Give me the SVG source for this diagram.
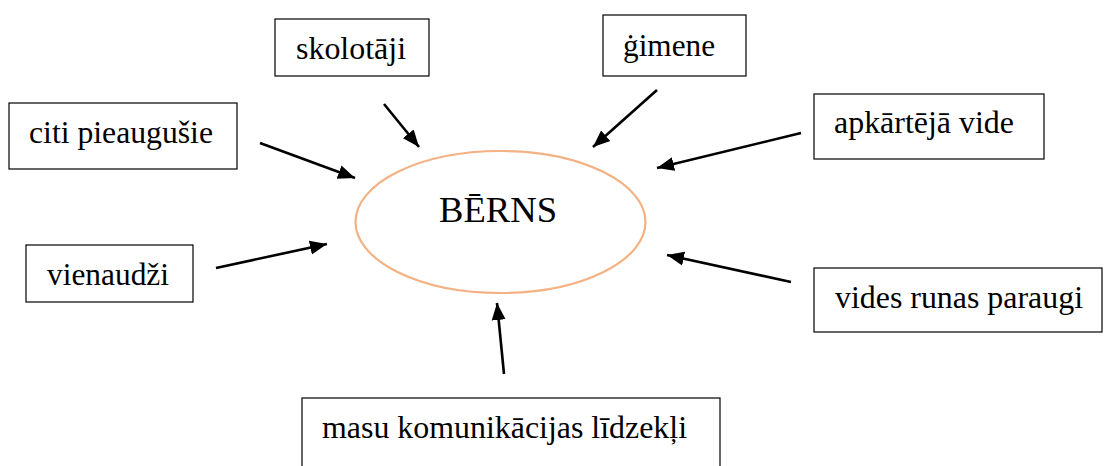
<svg xmlns="http://www.w3.org/2000/svg" width="1104" height="466" viewBox="0 0 1104 466">
<style>
.box{fill:#fff;stroke:#000;stroke-width:1.2}
.lbl{font-family:"Liberation Serif","DejaVu Serif","Noto Serif",serif;font-size:32px;fill:#000}
.conn{stroke:#000;stroke-width:2.6;fill:none;marker-end:url(#ah)}
</style>
<defs>
<marker id="ah" markerUnits="userSpaceOnUse" markerWidth="18" markerHeight="16" viewBox="0 0 18 16" refX="17" refY="8" orient="auto">
<path d="M0,1 L17,8 L0,15 Z" fill="#000"/>
</marker>
</defs>
<rect width="1104" height="466" fill="#fff"/>
<g id="center">
<ellipse cx="500.5" cy="222" rx="145" ry="71" fill="#fff" stroke="#F4B183" stroke-width="2.2"/>
<text x="439" y="222" class="lbl" style="font-size:36px" textLength="118" lengthAdjust="spacingAndGlyphs">BĒRNS</text>
</g>
<g id="n-skolotaji">
<rect class="box" x="275" y="19" width="154" height="57"/>
<text class="lbl" x="296" y="59" textLength="110" lengthAdjust="spacingAndGlyphs">skolotāji</text>
</g>
<g id="n-gimene">
<rect class="box" x="603" y="15" width="143" height="61"/>
<text class="lbl" x="623" y="56" textLength="92" lengthAdjust="spacingAndGlyphs">ġimene</text>
</g>
<g id="n-citi">
<rect class="box" x="9" y="103" width="228" height="66"/>
<text class="lbl" x="29" y="143" textLength="184" lengthAdjust="spacingAndGlyphs">citi pieaugušie</text>
</g>
<g id="n-vienaudzi">
<rect class="box" x="26" y="245" width="167" height="57"/>
<text class="lbl" x="47" y="285" textLength="122" lengthAdjust="spacingAndGlyphs">vienaudži</text>
</g>
<g id="n-apkartej">
<rect class="box" x="814" y="94" width="230" height="65"/>
<text class="lbl" x="834" y="133" textLength="180" lengthAdjust="spacingAndGlyphs">apkārtējā vide</text>
</g>
<g id="n-vides">
<rect class="box" x="814" y="268" width="288" height="64"/>
<text class="lbl" x="835" y="308" textLength="248" lengthAdjust="spacingAndGlyphs">vides runas paraugi</text>
</g>
<g id="n-masu">
<rect class="box" x="302" y="398" width="418" height="80"/>
<text class="lbl" x="322" y="438" textLength="365" lengthAdjust="spacingAndGlyphs">masu komunikācijas līdzekļi</text>
</g>
<g id="connectors">
<line class="conn" x1="384" y1="104" x2="419" y2="147"/>
<line class="conn" x1="657" y1="90" x2="593" y2="147"/>
<line class="conn" x1="260" y1="143" x2="355" y2="178"/>
<line class="conn" x1="216" y1="268" x2="327" y2="244"/>
<line class="conn" x1="801" y1="133" x2="657" y2="168"/>
<line class="conn" x1="791" y1="282" x2="667" y2="255"/>
<line class="conn" x1="504" y1="374" x2="497" y2="303"/>
</g>
</svg>
